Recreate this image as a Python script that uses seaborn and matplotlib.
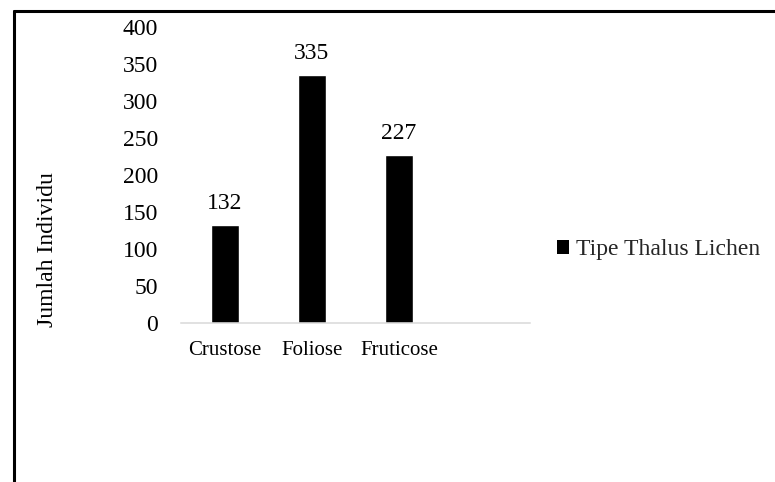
import matplotlib
matplotlib.use("Agg")
import matplotlib.pyplot as plt
from matplotlib.patches import Patch
from matplotlib.lines import Line2D
import seaborn as sns

# Jumlah individu per tipe thalus lichen
categories = ["Crustose", "Foliose", "Fruticose"]
counts = [132, 335, 227]
series_name = "Tipe Thalus Lichen"
y_label = "Jumlah Individu"
y_ticks = [0, 50, 100, 150, 200, 250, 300, 350, 400]

sns.set_theme(style="white")
plt.rcParams["font.family"] = ["Liberation Serif", "DejaVu Serif"]

W, H = 775, 482
fig = plt.figure(figsize=(W / 100, H / 100), dpi=100)
ax = fig.add_axes([181 / W, 1 - 323 / H, (530 - 181) / W, (323 - 27) / H])

sns.barplot(x=categories, y=counts, color="black", saturation=1,
            width=0.32, ax=ax)

ax.set_xlim(-0.5, 3.5)
ax.set_ylim(0, 400)
ax.set_yticks(y_ticks)
ax.set_yticklabels([str(t) for t in y_ticks], fontsize=17, color="black")
ax.tick_params(axis="y", length=0, pad=16.5)
ax.tick_params(axis="x", length=0, pad=13, labelsize=15, labelcolor="black")
ax.set_xlabel("")
ax.set_ylabel("")

for side in ("top", "right", "left"):
    ax.spines[side].set_visible(False)
ax.spines["bottom"].set_color("#d9d9d9")
ax.spines["bottom"].set_linewidth(1.1)

# value labels above each bar
for i, v in enumerate(counts):
    ax.annotate(str(v), xy=(i, v), xytext=(0, 11.5), textcoords="offset points",
                ha="center", va="baseline", fontsize=17, color="black")

fig.text(48 / W, 1 - 250 / H, y_label, rotation=90, ha="center", va="center",
         fontsize=17, color="black")

fig.legend(handles=[Patch(facecolor="black", edgecolor="none")],
           labels=[series_name], loc="center left",
           bbox_to_anchor=(557 / W, 1 - 250 / H), frameon=False,
           borderpad=0, borderaxespad=0, handlelength=0.5, handleheight=0.55,
           handletextpad=0.3, fontsize=17)

# outer chart border (left and top edges)
fig.add_artist(Line2D([14 / W, 14 / W], [-0.05, 1 - 10.5 / H],
                      transform=fig.transFigure, color="black", linewidth=2.2))
fig.add_artist(Line2D([14 / W, 1.05], [1 - 10.5 / H, 1 - 10.5 / H],
                      transform=fig.transFigure, color="black", linewidth=2.2))

fig.savefig("out.png", dpi=100)
